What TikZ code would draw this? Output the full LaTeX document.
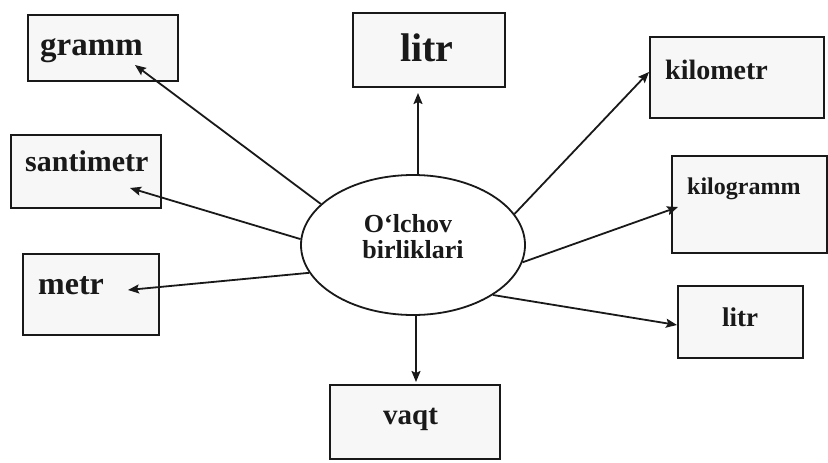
\documentclass[tikz,border=0pt]{standalone}
\usepackage{fontspec}
\setmainfont{Liberation Serif}
\usetikzlibrary{arrows.meta,shapes.geometric}
\begin{document}
\begin{tikzpicture}[x=1pt,y=-1pt,
  box/.style={draw=black!90, line width=2.3pt, fill=black!3, inner sep=0pt, anchor=north west},
  lbl/.style={anchor=base west, inner sep=0pt, text=black!90},
  arr/.style={draw=black!90, line width=1.8pt, -{Stealth[length=11pt,width=9pt,inset=2pt]}}]
\useasboundingbox (0,0) rectangle (828,463);
\fill[white] (0,0) rectangle (828,463);
% boxes
\node[box, minimum width=150pt, minimum height=66pt] (gramm) at (27,14) {};
\node[box, minimum width=150pt, minimum height=73pt] (santimetr) at (10,134) {};
\node[box, minimum width=136pt, minimum height=81pt] (metr) at (22,253) {};
\node[box, minimum width=152pt, minimum height=74pt] (litrT) at (352,12) {};
\node[box, minimum width=174pt, minimum height=81pt] (kilometr) at (649,36) {};
\node[box, minimum width=155pt, minimum height=97pt] (kilogramm) at (671,155) {};
\node[box, minimum width=125pt, minimum height=72pt] (litrR) at (677,285) {};
\node[box, minimum width=170pt, minimum height=74pt] (vaqt) at (329,384) {};
% labels
\node[lbl, font=\bfseries\fontsize{33}{36}\selectfont] (tgramm) at (40,56) {gramm};
\node[lbl, font=\bfseries\fontsize{30}{33}\selectfont] (tsantimetr) at (25,171) {santimetr};
\node[lbl, font=\bfseries\fontsize{32}{35}\selectfont] (tmetr) at (38,294) {metr};
\node[lbl, font=\bfseries\fontsize{40}{44}\selectfont] (tlitrT) at (400,61) {litr};
\node[lbl, font=\bfseries\fontsize{28}{31}\selectfont] (tkilometr) at (665,79) {kilometr};
\node[lbl, font=\bfseries\fontsize{24}{27}\selectfont] (tkilogramm) at (687,194) {kilogramm};
\node[lbl, font=\bfseries\fontsize{27}{30}\selectfont] (tlitrR) at (722,326) {litr};
\node[lbl, font=\bfseries\fontsize{29}{32}\selectfont] (tvaqt) at (383,424) {vaqt};
% ellipse
\node[draw=black!90, ellipse, line width=1.8pt, minimum width=224pt, minimum height=140pt, inner sep=0pt] (e) at (413,245) {};
\node[anchor=base, inner sep=0pt, font=\bfseries\fontsize{26}{28}\selectfont, text=black!90] (e1) at (408,232) {O‘lchov};
\node[anchor=base, inner sep=0pt, font=\bfseries\fontsize{26}{28}\selectfont, text=black!90] (e2) at (413,258) {birliklari};
% arrow tips
\coordinate (pg) at (135,65);
\coordinate (ps) at (130,188);
\coordinate (pm) at (128,290);
\coordinate (plt) at (418,93);
\coordinate (pkm) at (649,72);
\coordinate (pkg) at (678,207);
\coordinate (plr) at (677,325);
\coordinate (pv) at (416,382);
% arrows
\draw[arr] (e.156) -- (pg);
\draw[arr] (e.177.5) -- (ps);
\draw[arr] (e.195) -- (pm);
\draw[arr] (e.north -| plt) -- (plt);
\draw[arr] (e.17) -- (pkm);
\draw[arr] (e.351) -- (pkg);
\draw[arr] (e.328.5) -- (plr);
\draw[arr] (e.south -| pv) -- (pv);
\end{tikzpicture}
\end{document}
